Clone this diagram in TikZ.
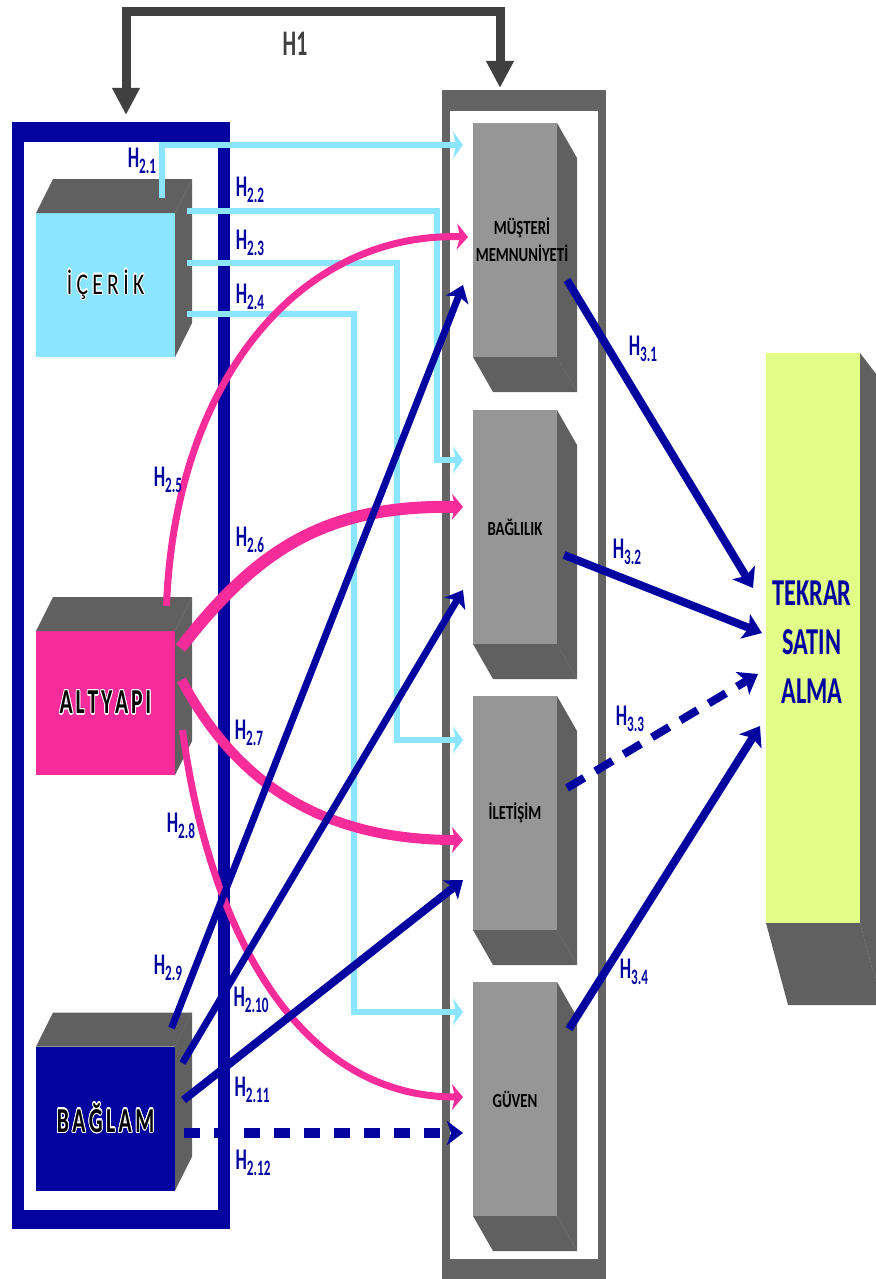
\documentclass[tikz,border=0pt]{standalone}
\usepackage{fontspec}
\setmainfont{Carlito}
\usepackage{graphicx}
\usepackage[copies]{contour}
\usetikzlibrary{arrows.meta}

\definecolor{deepblue}{RGB}{3,3,160}
\definecolor{hotpink}{RGB}{247,44,155}
\definecolor{skyline}{RGB}{140,229,255}
\definecolor{limeface}{RGB}{226,253,135}
\definecolor{faceside}{RGB}{96,96,96}
\definecolor{facefront}{RGB}{150,150,150}
\definecolor{framegray}{RGB}{100,100,100}
\definecolor{hgray}{RGB}{64,64,64}

\contourlength{1.3pt}

\newcommand{\narrow}[2]{\scalebox{#1}[1]{#2}}
\newcommand{\hlab}[1]{\narrow{0.6}{\bfseries\fontsize{30}{30}\selectfont H\raisebox{-6pt}{\fontsize{22}{22}\selectfont #1}}}

\newcommand{\upcube}[1]{%
  \fill[faceside] (#1.north west) -- ++(17,-34) -- ([shift={(17,-34)}]#1.north east) -- (#1.north east) -- cycle;
  \fill[faceside] (#1.north east) -- ++(17,-34) -- ([shift={(17,-34)}]#1.south east) -- (#1.south east) -- cycle;
  \draw[black!60, thin] (#1.north east) -- ++(17,-34);
}
\newcommand{\downcube}[1]{%
  \fill[faceside] (#1.south west) -- ++(20,35) -- ([shift={(20,35)}]#1.south east) -- (#1.south east) -- cycle;
  \fill[faceside] (#1.north east) -- ++(20,35) -- ([shift={(20,35)}]#1.south east) -- (#1.south east) -- cycle;
  \draw[black!60, thin] (#1.south east) -- ++(20,35);
}

\tikzset{
  cubeface/.style={inner sep=0pt, outer sep=0pt},
  sky/.style={draw=skyline, line width=6pt, -{Stealth[length=10pt,width=27pt,inset=3pt]}},
  pinkcurve/.style={draw=hotpink, -{Stealth[length=11pt,width=26pt,inset=3pt]}},
  deeparrow/.style={draw=deepblue, line width=7pt, -{Stealth[length=16pt,width=24pt,inset=4pt]}},
  hypo/.style={text=deepblue, inner sep=0pt},
}

\begin{document}
\begin{tikzpicture}[x=1pt,y=-1pt]
\useasboundingbox (0,0) rectangle (875,1279);

% frames
\node[cubeface, fill=deepblue, minimum width=218pt, minimum height=1107pt] (leftframe) at (121,675.5) {};
\node[cubeface, fill=white, minimum width=194pt, minimum height=1068pt] (leftinner) at (121,676) {};
\node[cubeface, fill=framegray, minimum width=164pt, minimum height=1189pt] (graycol) at (524,684.5) {};
\node[cubeface, fill=white, minimum width=148pt, minimum height=1148pt] (grayinner) at (524,685) {};

\draw[hgray, line width=9pt, {Triangle[length=27pt,width=26pt]}-{Triangle[length=27pt,width=26pt]}]
  ([xshift=5pt,yshift=7pt]leftframe.north) |- (313,12) -| ([xshift=-24pt,yshift=2pt]graycol.north);
\node[text=hgray] (hone) at (295,44) {\narrow{0.6}{\bfseries\fontsize{36}{36}\selectfont H1}};

% left cubes
\node[cubeface, fill=skyline, minimum width=139pt, minimum height=144pt] (icerik) at (105.5,285)
  {\narrow{0.72}{\fontsize{30}{30}\selectfont\contour{white}{İ\kern6pt Ç\kern6pt E\kern6pt R\kern6pt İ\kern6pt K}}};
\upcube{icerik}
\node[cubeface, fill=hotpink, minimum width=139pt, minimum height=144pt] (altyapi) at (105.5,703)
  {\narrow{0.62}{\bfseries\fontsize{35}{35}\selectfont\contour{white}{A\kern4.5pt L\kern4.5pt T\kern4.5pt Y\kern4.5pt A\kern4.5pt P\kern4.5pt I}}};
\upcube{altyapi}
\node[cubeface, fill=deepblue, minimum width=139pt, minimum height=144pt] (baglam) at (105.5,1118.5)
  {\narrow{0.62}{\bfseries\fontsize{35}{35}\selectfont\contour{white}{B\kern5.5pt A\kern5.5pt Ğ\kern5.5pt L\kern5.5pt A\kern5.5pt M}}};
\upcube{baglam}

% middle column
\node[cubeface, fill=facefront, minimum width=84pt, minimum height=234pt] (musteri) at (515,240) {};
\downcube{musteri}
\node[xshift=7pt, yshift=-3pt] (musteritext) at (musteri.center)
  {\narrow{0.74}{\bfseries\fontsize{20}{27}\selectfont\begin{tabular}{@{}c@{}}MÜŞTERİ\\MEMNUNİYETİ\end{tabular}}};
\node[cubeface, fill=facefront, minimum width=84pt, minimum height=234pt] (baglilik) at (515,527)
  {\narrow{0.74}{\bfseries\fontsize{20}{20}\selectfont BAĞLILIK}};
\downcube{baglilik}
\node[cubeface, fill=facefront, minimum width=84pt, minimum height=234pt] (iletisim) at (515,813)
  {\narrow{0.74}{\bfseries\fontsize{20}{20}\selectfont İLETİŞİM}};
\downcube{iletisim}
\node[cubeface, fill=facefront, minimum width=84pt, minimum height=234pt] (guven) at (515,1099)
  {\narrow{0.74}{\bfseries\fontsize{20}{20}\selectfont GÜVEN}};
\downcube{guven}

% right box
\node[cubeface, fill=limeface, minimum width=94pt, minimum height=570pt] (tekrar) at (813,638) {};
\fill[faceside] (tekrar.south west) -- (tekrar.south east) -- ++(22,82) -- ([shift={(22,82)}]tekrar.south west) -- cycle;
\fill[faceside] (tekrar.north east) -- ++(30,39) -- ([shift={(30,82)}]tekrar.south east) -- ([shift={(22,82)}]tekrar.south east) -- (tekrar.south east) -- cycle;
\draw[black!60, thin] (tekrar.south east) -- ++(22,82);
\node[text=deepblue] (tekrartext) at (812,645)
  {\narrow{0.64}{\bfseries\fontsize{38}{49}\selectfont\begin{tabular}{@{}c@{}}TEKRAR\\SATIN\\ALMA\end{tabular}}};

% content links
\draw[sky] ([shift={(-13.5,-15)}]icerik.north east) |- ([shift={(-10,-95)}]musteri.west);
\draw[sky] ([shift={(12,-2)}]icerik.north east) -| (437,460) -- ([shift={(-10,-67)}]baglilik.west);
\draw[sky] ([shift={(12,50)}]icerik.north east) -| (397,740) -- ([shift={(-10,-73)}]iletisim.west);
\draw[sky] ([shift={(12,101)}]icerik.north east) -| (354,1012) -- ([shift={(-10,-87)}]guven.west);

% infrastructure links
\draw[pinkcurve, line width=7pt] ([shift={(-8.5,-25)}]altyapi.north east) .. controls (175,380) and (300,232) .. ([shift={(-5,-3)}]musteri.west);
\draw[pinkcurve, line width=12pt] ([shift={(5.5,17)}]altyapi.north east) .. controls (260,545) and (330,505) .. ([shift={(-10,-20)}]baglilik.west);
\draw[pinkcurve, line width=10pt] ([shift={(6.5,49)}]altyapi.north east) .. controls (240,790) and (330,840) .. ([shift={(-10,27)}]iletisim.west);
\draw[pinkcurve, line width=7pt] ([shift={(7.5,99)}]altyapi.north east) .. controls (210,935) and (300,1097) .. ([shift={(-10,-2)}]guven.west);

% context links
\draw[deeparrow] ([shift={(-3.5,-18.5)}]baglam.north east) -- ([shift={(-10,45)}]musteri.west);
\draw[deeparrow] ([shift={(7.5,16.5)}]baglam.north east) -- ([shift={(-10,63)}]baglilik.west);
\draw[deeparrow, line width=8pt] ([shift={(8.5,53.5)}]baglam.north east) -- ([shift={(-10,67)}]iletisim.west);
\draw[deeparrow, line width=10pt, dash pattern=on 16pt off 14pt] ([shift={(8.5,86.5)}]baglam.north east) -- ([shift={(-10,34)}]guven.west);

% outcome links
\draw[deeparrow, line width=8pt, -{Stealth[length=18pt,width=26pt,inset=4pt]}] ([shift={(10,40)}]musteri.east) -- ([shift={(-13,-50)}]tekrar.west);
\draw[deeparrow, line width=8pt, -{Stealth[length=18pt,width=26pt,inset=4pt]}] ([shift={(7,28)}]baglilik.east) -- ([shift={(-4,-5)}]tekrar.west);
\draw[deeparrow, line width=8pt, dash pattern=on 20pt off 13pt, -{Stealth[length=18pt,width=26pt,inset=4pt]}] ([shift={(10,-25)}]iletisim.east) -- ([shift={(-8,36)}]tekrar.west);
\draw[deeparrow, line width=8pt, -{Stealth[length=18pt,width=26pt,inset=4pt]}] ([shift={(12,-70)}]guven.east) -- ([shift={(-6,88)}]tekrar.west);

% labels
\node[hypo] (l21) at (142,161) {\hlab{2.1}};
\node[hypo] (l22) at (250,190) {\hlab{2.2}};
\node[hypo] (l23) at (250,243) {\hlab{2.3}};
\node[hypo] (l24) at (250,297) {\hlab{2.4}};
\node[hypo] (l25) at (168,480) {\hlab{2.5}};
\node[hypo] (l26) at (250,540) {\hlab{2.6}};
\node[hypo] (l27) at (249,733) {\hlab{2.7}};
\node[hypo] (l28) at (181,826) {\hlab{2.8}};
\node[hypo] (l29) at (168,968) {\hlab{2.9}};
\node[hypo] (l210) at (251,1000) {\hlab{2.10}};
\node[hypo] (l211) at (252,1090) {\hlab{2.11}};
\node[hypo] (l212) at (253,1163) {\hlab{2.12}};
\node[hypo] (l31) at (643,349) {\hlab{3.1}};
\node[hypo] (l32) at (627,552) {\hlab{3.2}};
\node[hypo] (l33) at (630,719) {\hlab{3.3}};
\node[hypo] (l34) at (634,972) {\hlab{3.4}};

\end{tikzpicture}
\end{document}
